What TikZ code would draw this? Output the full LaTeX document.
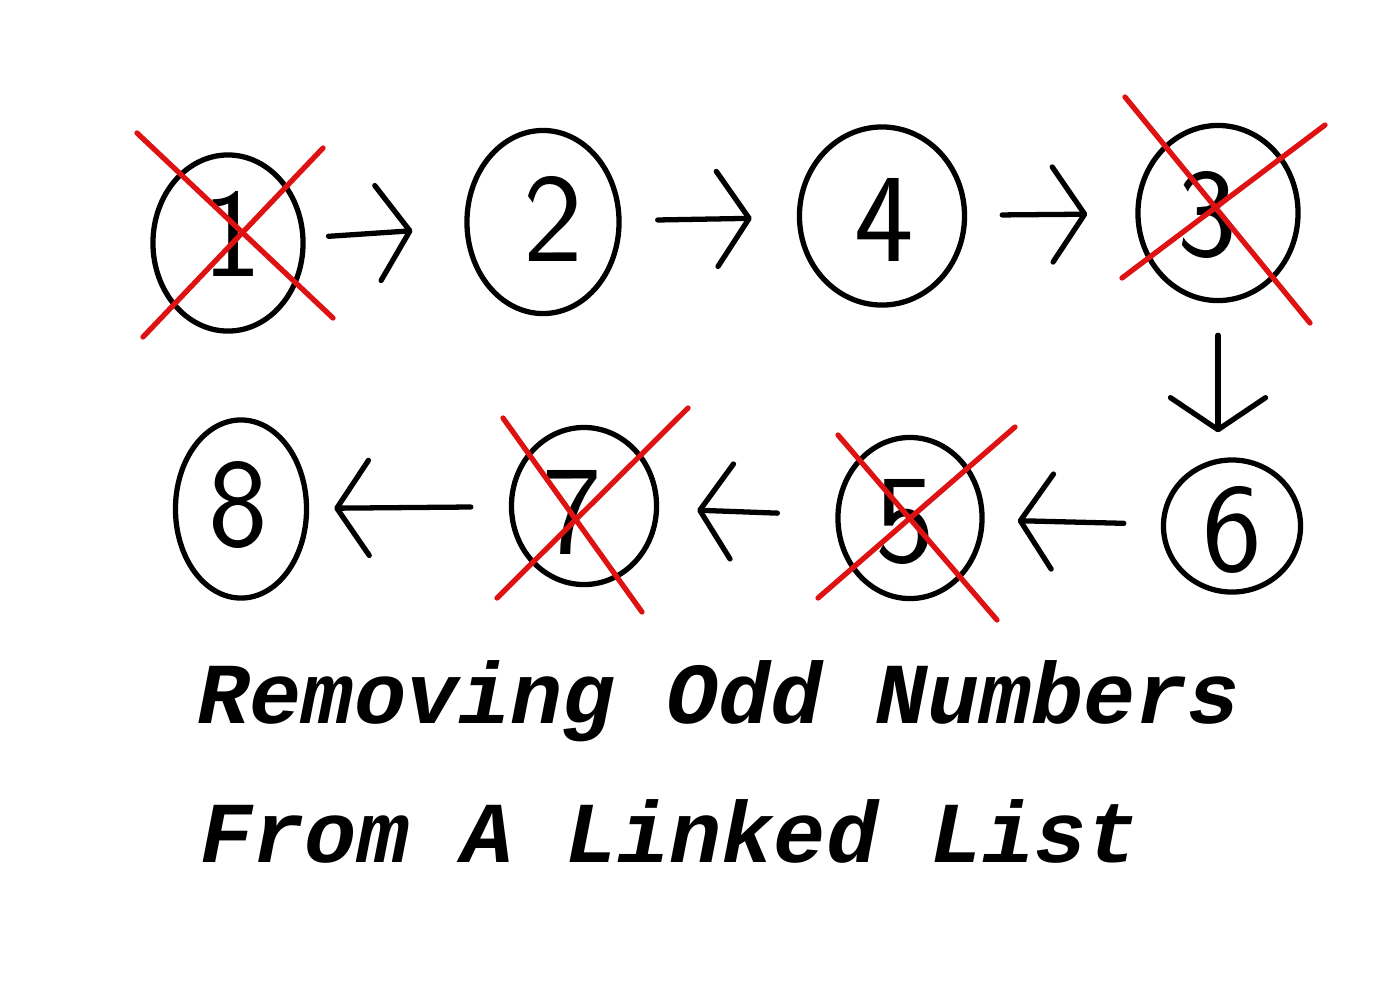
\documentclass[tikz,border=0pt]{standalone}
\usepackage{fontspec}
\newfontfamily\titlefont{Liberation Mono}
\usetikzlibrary{shapes.geometric,arrows.meta}
\tikzset{
  circ/.style={draw, ellipse, line width=1.5pt, inner sep=0pt},
  digit/.style={font=\sffamily\fontsize{36}{40}\selectfont, inner sep=0pt},
  arr/.style={line width=1.5pt, line cap=round, -{Straight Barb[length=3.2mm,width=9.5mm,round]}},
  xline/.style={draw=xred, line width=1.5pt, line cap=round},
  title/.style={font=\titlefont\bfseries\itshape\fontsize{24.7}{28}\selectfont, anchor=base west, inner sep=0pt}
}
\definecolor{xred}{RGB}{222,18,18}
\begin{document}
\begin{tikzpicture}[x=0.01cm,y=-0.01cm]
\fill[white] (0,0) rectangle (1400,990);
\useasboundingbox (0,0) rectangle (1400,990);
% circles, top row
\node[circ, minimum width=1.50cm, minimum height=1.76cm] (n1) at (228,243) {};
\node[circ, minimum width=1.52cm, minimum height=1.83cm] (n2) at (543,222) {};
\node[circ, minimum width=1.65cm, minimum height=1.78cm] (n4) at (882,216) {};
\node[circ, minimum width=1.60cm, minimum height=1.75cm] (n3) at (1218,213) {};
% circles, bottom row
\node[circ, minimum width=1.31cm, minimum height=1.78cm] (n8) at (241,509) {};
\node[circ, minimum width=1.45cm, minimum height=1.57cm] (n7) at (584,506) {};
\node[circ, minimum width=1.44cm, minimum height=1.61cm] (n5) at (910,518) {};
\node[circ, minimum width=1.37cm, minimum height=1.32cm] (n6) at (1232,526) {};
% digits
\node[digit] (d1) at (232,234) {1};
\node[digit] (d2) at (553,219) {2};
\node[digit] (d4) at (884,220) {4};
\node[digit] (d3) at (1207,215) {3};
\node[digit] (d8) at (238,505) {8};
\node[digit] (d7) at (572,512) {7};
\node[digit] (d5) at (905,522) {5};
\node[digit] (d6) at (1232,530) {6};
% arrows
\draw[arr, shorten <=0.23cm, shorten >=0.52cm] (n1) -- (n2);
\draw[arr, shorten <=0.36cm, shorten >=0.45cm] (n2) -- (n4);
\draw[arr, shorten <=0.35cm, shorten >=0.48cm] (n4) -- (n3);
\draw[arr, shorten <=0.32cm, shorten >=0.25cm] (n3.south) -- (n3.south |- n6.north);
\draw[arr, shorten <=0.37cm, shorten >=0.33cm] (n6) -- (n5);
\draw[arr, shorten <=0.58cm, shorten >=0.38cm] (n5) -- (n7);
\draw[arr, shorten <=0.38cm, shorten >=0.25cm] (n7) -- (n8);
% red crosses
\draw[xline] (137,133) -- (333,318);
\draw[xline] (143,337) -- (323,148);
\draw[xline] (1125,97) -- (1310,323);
\draw[xline] (1122,278) -- (1325,125);
\draw[xline] (503,418) -- (642,612);
\draw[xline] (497,598) -- (688,408);
\draw[xline] (838,435) -- (997,620);
\draw[xline] (818,598) -- (1015,427);
% title
\node[title] (t1) at (197,723) {Removing Odd Numbers};
\node[title] (t2) at (200,862) {From A Linked List};
\end{tikzpicture}
\end{document}
